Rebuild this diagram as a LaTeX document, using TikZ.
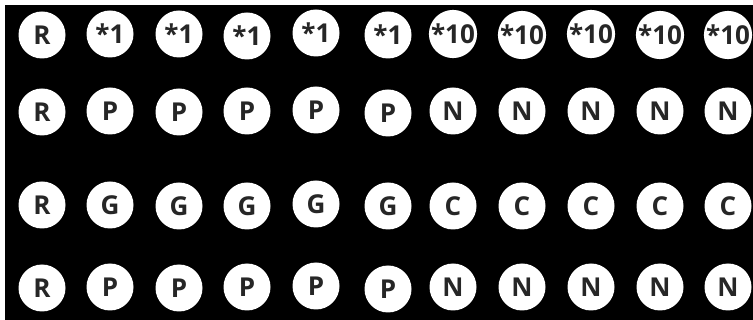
\documentclass[tikz,border=0pt]{standalone}
\usepackage{fontspec}
\setmainfont{Open Sans}
\begin{document}
\begin{tikzpicture}[x=1pt,y=-1pt,
  ball/.style={circle,fill=white,minimum size=47pt,inner sep=0pt,
    font=\fontsize{26}{26}\selectfont\bfseries,text=black!85}]
\useasboundingbox (0,0) rectangle (753,320);
\fill[white] (0,0) rectangle (753,320);
\fill[black] (5,5) rectangle (753,320);
% row 1
\node[ball] (a1) at (42,35) {R};
\node[ball] (a2) at (110,34) {*1};
\node[ball] (a3) at (179,34) {*1};
\node[ball] (a4) at (247,36) {*1};
\node[ball] (a5) at (316,33) {*1};
\node[ball] (a6) at (388,35) {*1};
\node[ball] (a7) at (453,34) {*10};
\node[ball] (a8) at (522,35) {*10};
\node[ball] (a9) at (591,34) {*10};
\node[ball] (a10) at (660,35) {*10};
\node[ball] (a11) at (728,35) {*10};
% row 2
\node[ball] (b1) at (42,112) {R};
\node[ball] (b2) at (110,111) {P};
\node[ball] (b3) at (179,112) {P};
\node[ball] (b4) at (247,111) {P};
\node[ball] (b5) at (316,110) {P};
\node[ball] (b6) at (388,113) {P};
\node[ball] (b7) at (453,111) {N};
\node[ball] (b8) at (522,111) {N};
\node[ball] (b9) at (591,111) {N};
\node[ball] (b10) at (660,111) {N};
\node[ball] (b11) at (728,111) {N};
% row 3
\node[ball] (c1) at (42,205) {R};
\node[ball] (c2) at (110,205) {G};
\node[ball] (c3) at (179,206) {G};
\node[ball] (c4) at (247,206) {G};
\node[ball] (c5) at (316,204) {G};
\node[ball] (c6) at (388,206) {G};
\node[ball] (c7) at (453,206) {C};
\node[ball] (c8) at (522,206) {C};
\node[ball] (c9) at (591,206) {C};
\node[ball] (c10) at (660,206) {C};
\node[ball] (c11) at (728,206) {C};
% row 4
\node[ball] (d1) at (42,288) {R};
\node[ball] (d2) at (110,287) {P};
\node[ball] (d3) at (179,288) {P};
\node[ball] (d4) at (247,287) {P};
\node[ball] (d5) at (316,286) {P};
\node[ball] (d6) at (388,289) {P};
\node[ball] (d7) at (453,287) {N};
\node[ball] (d8) at (522,287) {N};
\node[ball] (d9) at (591,287) {N};
\node[ball] (d10) at (660,287) {N};
\node[ball] (d11) at (728,287) {N};
\end{tikzpicture}
\end{document}
